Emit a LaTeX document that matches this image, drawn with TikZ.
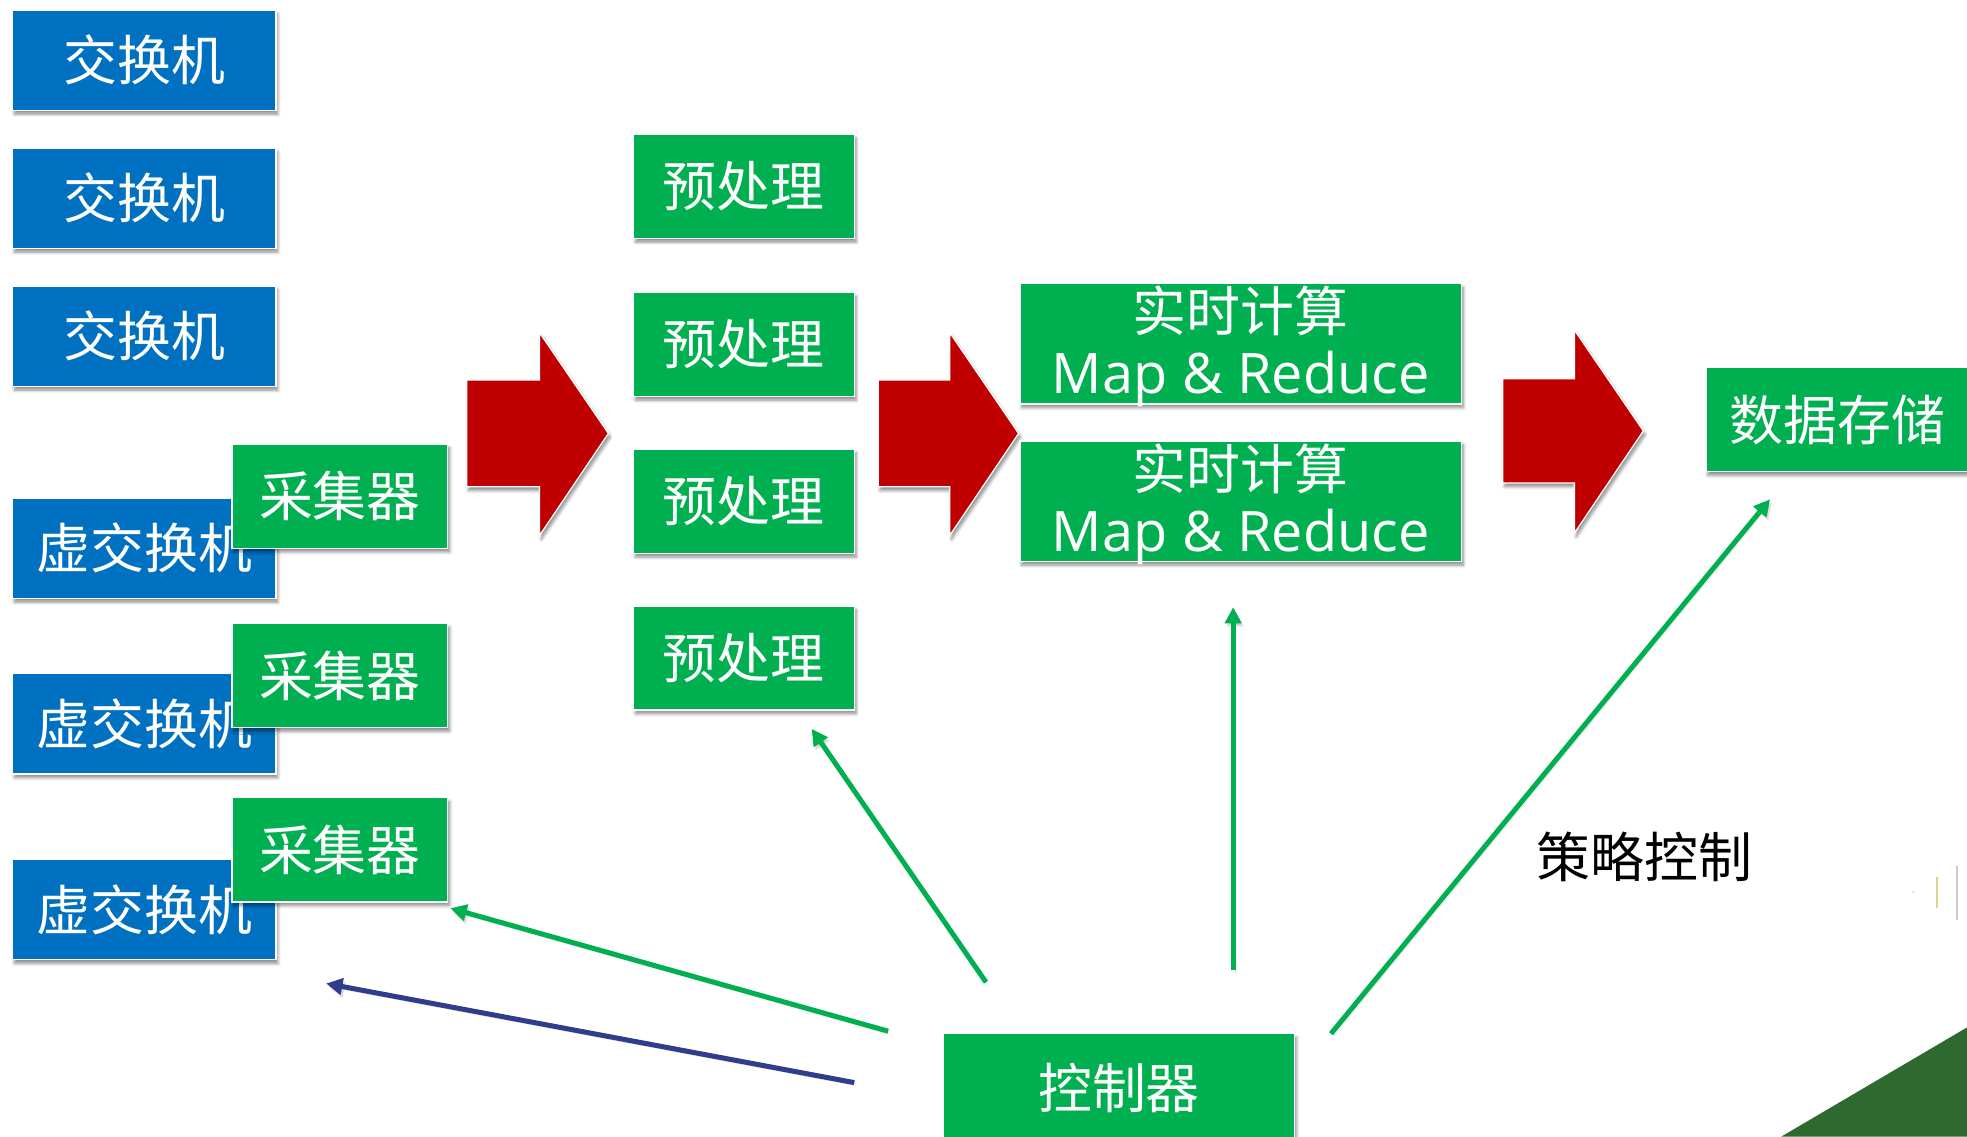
\documentclass[tikz,border=0pt]{standalone}
\usepackage{fontspec}
\newfontfamily\cjk{Noto Sans CJK SC}
\newfontfamily\latn{Open Sans}
\usetikzlibrary{arrows.meta,shadows.blur}
\definecolor{boxblue}{HTML}{0070C0}
\definecolor{boxgreen}{HTML}{00B050}
\definecolor{flowred}{HTML}{C00000}
\definecolor{ctrlblue}{HTML}{2F3D8C}
\definecolor{cornergreen}{HTML}{2E6930}
\begin{document}
\begin{tikzpicture}[x=1pt,y=-1pt,
  softshadow/.style={blur shadow={shadow xshift=1.5pt, shadow yshift=-3pt,
      shadow blur radius=2.5pt, shadow blur steps=6, shadow opacity=45}},
  box/.style={draw=white, line width=1pt, inner sep=0pt, outer sep=0pt,
      text=white, font=\cjk\fontsize{43}{50}\selectfont, softshadow},
  bluebox/.style={box, fill=boxblue, minimum width=210pt, minimum height=80pt},
  collbox/.style={box, fill=boxgreen, minimum width=172pt, minimum height=83pt},
  prebox/.style={box, fill=boxgreen, minimum width=176pt, minimum height=83pt},
  calcbox/.style={box, fill=boxgreen, minimum width=352pt, minimum height=96pt},
  cjktext/.style={inner sep=0pt, text=white, font=\cjk\fontsize{43}{50}\selectfont},
  lattext/.style={inner sep=0pt, text=white, font=\latn\fontsize{44.5}{50}\selectfont},
  bigarrow/.style={fill=flowred, draw=white, line width=1pt, softshadow},
  ctrlline/.style={line width=4pt, draw=boxgreen,
      -{Triangle[length=13pt,width=13pt]},
      preaction={draw=black, opacity=0.12, transform canvas={xshift=1.5pt,yshift=-2.5pt}}},
  backline/.style={ctrlline, draw=ctrlblue}
]
\useasboundingbox (0,0) rectangle (1568,906);
\clip (0,0) rectangle (1568,906);

% physical switches
\node[bluebox] (sw1) at (115,48)  {交换机};
\node[bluebox] (sw2) at (115,158) {交换机};
\node[bluebox] (sw3) at (115,268) {交换机};

% virtual switches with their collectors on top
\node[bluebox] (vs1) at (115,437) {虚交换机};
\node[collbox] (col1) at (271,395.5) {采集器};
\node[bluebox] (vs2) at (115,577) {虚交换机};
\node[collbox] (col2) at (271,538.5) {采集器};
\node[bluebox] (vs3) at (115,725) {虚交换机};
\node[collbox] (col3) at (271,677.5) {采集器};

% flow arrows
\draw[bigarrow] (372,303) -- (430,303) -- (430,265) -- (485,345.5)
  -- (430,427) -- (430,388) -- (372,388) -- cycle;
\draw[bigarrow] (700,303) -- (757,303) -- (757,265) -- (812,345.5)
  -- (757,427) -- (757,388) -- (700,388) -- cycle;
\draw[bigarrow] (1198,302) -- (1255,302) -- (1255,263) -- (1310,343.5)
  -- (1255,425) -- (1255,385) -- (1198,385) -- cycle;

% preprocessing
\node[prebox] (pre1) at (593,148.5) {预处理};
\node[prebox] (pre2) at (593,274.5) {预处理};
\node[prebox] (pre3) at (593,399.5) {预处理};
\node[prebox] (pre4) at (593,524.5) {预处理};

% real-time computation
\node[calcbox] (rt1) at (989,274) {};
\node[cjktext] (rt1a) at (989,248) {实时计算};
\node[lattext, anchor=base] (rt1b) at (989,314) {Map \& Reduce};
\node[calcbox] (rt2) at (989,399.5) {};
\node[cjktext] (rt2a) at (989,373.5) {实时计算};
\node[lattext, anchor=base] (rt2b) at (989,439.5) {Map \& Reduce};

% storage and controller
\node[box, fill=boxgreen, minimum width=210pt, minimum height=83pt] (store) at (1465,334.5) {数据存储};
\node[box, fill=boxgreen, minimum width=280pt, minimum height=86pt] (ctrl) at (892,867) {控制器};
\node[inner sep=0pt, font=\cjk\fontsize{43}{50}\selectfont] (policy) at (1311,683) {策略控制};

% control connectors
\coordinate (t1) at (786,783);  \coordinate (h1) at (647,581);
\coordinate (t2) at (983,773);  \coordinate (h2) at (983,484);
\coordinate (t3) at (1061,824); \coordinate (h3) at (1411,398);
\coordinate (t4) at (708,822);  \coordinate (h4) at (359,724);
\coordinate (t5) at (681,863);  \coordinate (h5) at (260,784);
\draw[ctrlline] (t1) -- (h1);
\draw[ctrlline] (t2) -- (h2);
\draw[ctrlline] (t3) -- (h3);
\draw[ctrlline] (t4) -- (h4);
\draw[backline] (t5) -- (h5);

% corner decoration
\fill[cornergreen] (1420,906) -- (1568,819) -- (1568,906) -- cycle;
\draw[line width=1.2pt, color=olive!35] (1544,699) -- (1544,724);
\draw[line width=1.2pt, color=black!20] (1560,690) -- (1560,733);
\fill[olive!25] (1525,711) circle (1pt);
\end{tikzpicture}
\end{document}
